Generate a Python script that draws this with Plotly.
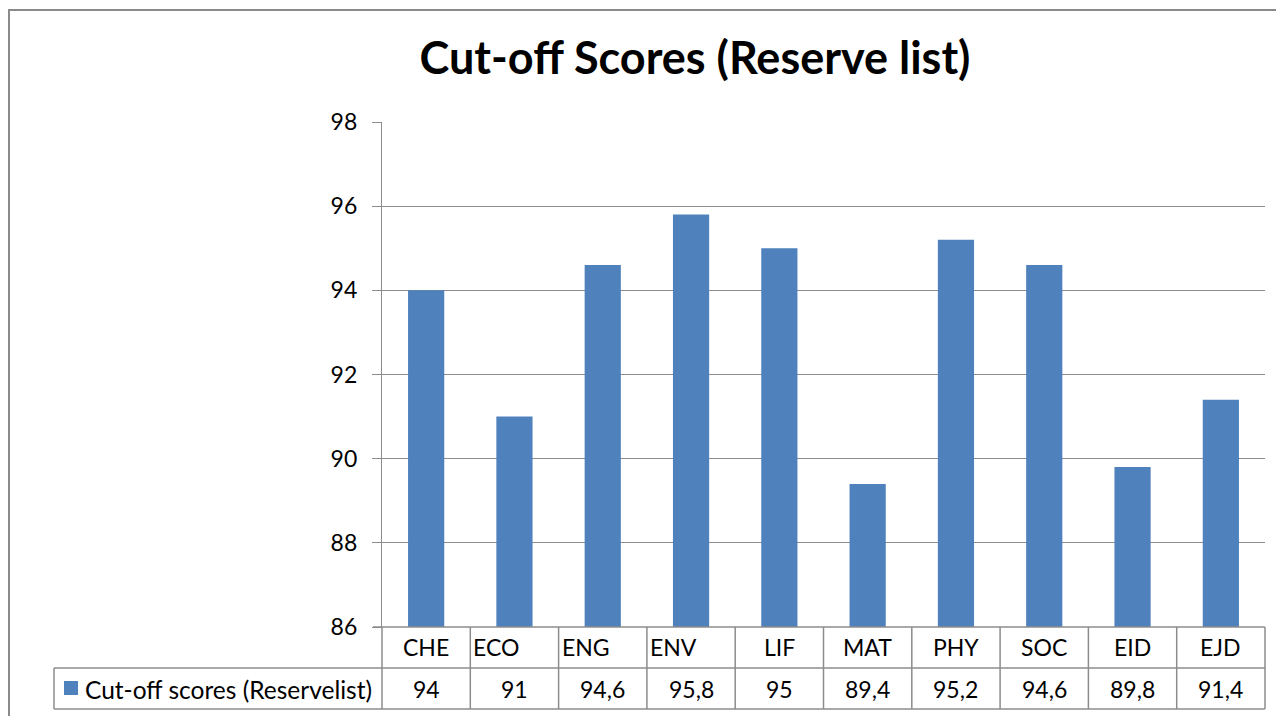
import plotly.graph_objects as go

categories = ["CHE", "ECO", "ENG", "ENV", "LIF", "MAT", "PHY", "SOC", "EID", "EJD"]
values = [94, 91, 94.6, 95.8, 95, 89.4, 95.2, 94.6, 89.8, 91.4]
series_name = "Cut-off scores (Reservelist)"
title_text = "Cut-off Scores (Reserve list)"
y_ticks = [86, 88, 90, 92, 94, 96, 98]
label_align = ["center", "left", "left", "left", "center", "center", "center", "center", "center", "center"]

OFF = 8  # default page body margin
W, H = 1284 - OFF, 716 - OFF
# plot-area edges in window pixels
PL, PR, PT, PB = 382, 1265, 122, 627
BAR = "#4F81BD"
GRID = "#8C8C8C"
FONT = "Lato"

def px(x):
    return (x - PL) / (PR - PL)

def py(y):
    return (PB - y) / (PB - PT)

def fmt(v):
    return ("%g" % v).replace(".", ",")

n = len(categories)
xs = list(range(n))

fig = go.Figure()
fig.add_trace(go.Bar(x=xs, y=values, marker=dict(color=BAR, line=dict(width=0)),
                     width=0.41, showlegend=False, hoverinfo="y"))

fig.update_layout(
    width=W, height=H,
    margin=dict(l=PL - OFF, r=W - (PR - OFF), t=PT - OFF, b=H - (PB - OFF), pad=0),
    paper_bgcolor="white", plot_bgcolor="white",
    font=dict(family=FONT, color="black"),
    title=dict(text="<b>%s</b>" % title_text, xref="container", yref="container",
               x=(695 - OFF) / W, xanchor="center", y=1 - (58 - OFF) / H, yanchor="middle",
               font=dict(size=45, family=FONT, color="black")),
)

fig.update_xaxes(range=[-0.5, n - 0.5], showticklabels=False, showgrid=False,
                 zeroline=False, showline=False, ticks="")
fig.update_yaxes(range=[86, 98], tickvals=y_ticks, ticktext=[str(t) for t in y_ticks],
                 showgrid=True, gridcolor=GRID, gridwidth=1.3,
                 showline=True, linecolor=GRID, linewidth=1.3,
                 ticks="outside", ticklen=9, tickcolor=GRID, tickwidth=1.3,
                 ticklabelstandoff=10,
                 tickfont=dict(size=23, family=FONT, color="black"),
                 zeroline=False)

shapes = []
line = dict(color=GRID, width=1.5)
# outer chart border
shapes.append(dict(type="rect", xref="paper", yref="paper",
                   x0=px(9), x1=px(1300), y0=py(10), y1=py(730),
                   line=dict(color="#8A8A8A", width=2), fillcolor="rgba(0,0,0,0)", layer="below"))
# table horizontal lines
for yy, x0 in [(PB, PL - 9), (668, 54), (709, 54)]:
    shapes.append(dict(type="line", xref="paper", yref="paper",
                       x0=px(x0), x1=px(PR), y0=py(yy), y1=py(yy), line=line))
# column separators
colw = (PR - PL) / n
for k in range(n + 1):
    xx = PL + k * colw
    shapes.append(dict(type="line", xref="paper", yref="paper",
                       x0=px(xx), x1=px(xx), y0=py(PB), y1=py(709), line=line))
shapes.append(dict(type="line", xref="paper", yref="paper",
                   x0=px(54), x1=px(54), y0=py(668), y1=py(709), line=line))
# legend key square
shapes.append(dict(type="rect", xref="paper", yref="paper",
                   x0=px(64), x1=px(78), y0=py(681), y1=py(695),
                   fillcolor=BAR, line=dict(width=0)))

annotations = []
for i, (c, v) in enumerate(zip(categories, values)):
    x_left = PL + i * colw
    if label_align[i] == "left":
        annotations.append(dict(x=px(x_left + 1), y=py(647), xref="paper", yref="paper",
                                text=c, showarrow=False, xanchor="left", yanchor="middle",
                                font=dict(size=23, family=FONT, color="black")))
    else:
        annotations.append(dict(x=px(x_left + colw / 2), y=py(647), xref="paper", yref="paper",
                                text=c, showarrow=False, xanchor="center", yanchor="middle",
                                font=dict(size=23, family=FONT, color="black")))
    annotations.append(dict(x=px(x_left + colw / 2), y=py(689), xref="paper", yref="paper",
                            text=fmt(v), showarrow=False, xanchor="center", yanchor="middle",
                            font=dict(size=23, family=FONT, color="black")))
annotations.append(dict(x=px(83), y=py(689), xref="paper", yref="paper",
                        text=series_name, showarrow=False, xanchor="left", yanchor="middle",
                        font=dict(size=24.5, family=FONT, color="black")))

fig.update_layout(shapes=shapes, annotations=annotations)
fig.write_html("out.html")
